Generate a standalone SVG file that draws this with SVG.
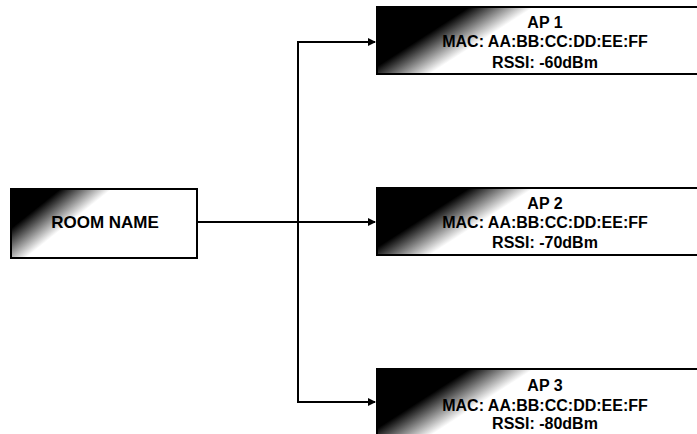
<svg xmlns="http://www.w3.org/2000/svg" width="697" height="434" viewBox="0 0 697 434">
<defs>
<style>
.box{stroke:#000;stroke-width:2}
.t{font-family:"Liberation Sans",Arial,sans-serif;font-weight:bold;font-size:16px;fill:#000;text-anchor:middle}
.big{font-size:17px}
.c{fill:none;stroke:#000;stroke-width:2}
</style>
<linearGradient id="gAP" gradientUnits="userSpaceOnUse" x1="0" y1="0" x2="54" y2="84">
<stop offset="0" stop-color="#000"/>
<stop offset="0.5" stop-color="#000"/>
<stop offset="0.85" stop-color="#fff"/>
</linearGradient>
<linearGradient id="gRoom" gradientUnits="userSpaceOnUse" x1="0" y1="0" x2="48" y2="60">
<stop offset="0" stop-color="#000"/>
<stop offset="0.4" stop-color="#000"/>
<stop offset="0.82" stop-color="#fff"/>
</linearGradient>
<marker id="arr" markerWidth="8" markerHeight="8" refX="7" refY="4" orient="auto" markerUnits="userSpaceOnUse">
<path d="M0,0 L8,4 L0,8 Z" fill="#000"/>
</marker>
</defs>
<rect width="697" height="434" fill="#fff"/>
<g id="connectors">
<path class="c" d="M197,222 H298 V42 H375" marker-end="url(#arr)"/>
<path class="c" d="M197,222 H375" marker-end="url(#arr)"/>
<path class="c" d="M298,222 V402 H375" marker-end="url(#arr)"/>
</g>
<g id="room" transform="translate(11,189)">
<rect class="box" x="0" y="0" width="186" height="69" fill="url(#gRoom)"/>
<text class="t big" x="94" y="39">ROOM NAME</text>
</g>
<g id="ap1" transform="translate(377,7)">
<rect class="box" x="0" y="0" width="338" height="67" fill="url(#gAP)"/>
<text class="t" x="168" y="21">AP 1</text>
<text class="t" x="168" y="40">MAC: AA:BB:CC:DD:EE:FF</text>
<text class="t" x="168" y="61">RSSI: -60dBm</text>
</g>
<g id="ap2" transform="translate(377,188)">
<rect class="box" x="0" y="0" width="338" height="67" fill="url(#gAP)"/>
<text class="t" x="168" y="21">AP 2</text>
<text class="t" x="168" y="40">MAC: AA:BB:CC:DD:EE:FF</text>
<text class="t" x="168" y="60">RSSI: -70dBm</text>
</g>
<g id="ap3" transform="translate(377,369)">
<rect class="box" x="0" y="0" width="338" height="67" fill="url(#gAP)"/>
<text class="t" x="168" y="22">AP 3</text>
<text class="t" x="168" y="42">MAC: AA:BB:CC:DD:EE:FF</text>
<text class="t" x="168" y="60">RSSI: -80dBm</text>
</g>
</svg>
